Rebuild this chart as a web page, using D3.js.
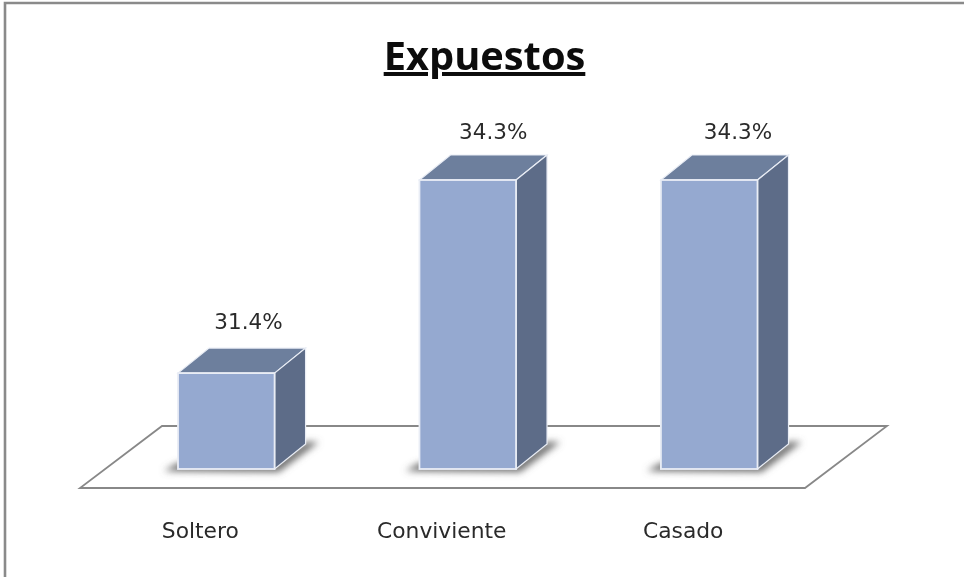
<!DOCTYPE html>
<html><head><meta charset="utf-8">
<script src="https://cdnjs.cloudflare.com/ajax/libs/d3/7.8.5/d3.min.js"></script>
<style>html,body{margin:0;padding:0;background:#fff;overflow:hidden}svg{display:block}#root{filter:blur(0.45px)}</style>
</head><body><svg id="c" width="964" height="577"></svg>
<script>
const title = "Expuestos";
const categories = ["Soltero", "Conviviente", "Casado"];
const values = [31.4, 34.3, 34.3];
const labels = ["31.4%", "34.3%", "34.3%"];
const baseValue = 29.96;

const svg = d3.select("#c").append("g").attr("id","root");
const defsRoot = d3.select("#c");
const x = d3.scaleBand().domain(categories).range([178, 757.5]).paddingInner(0.6).paddingOuter(0);
const y = d3.scaleLinear().domain([baseValue, 34.3]).range([469, 180]);
const labelX = d3.scalePoint().domain(categories).range([248.5, 738]);
const labelY = d3.scaleLinear().domain([31.4, 34.3]).range([329, 139]);
const dx = 31, dy = -25;

const defs = defsRoot.append("defs");
const blur = defs.append("filter").attr("id","sh").attr("x","-30%").attr("y","-30%").attr("width","160%").attr("height","160%");
blur.append("feGaussianBlur").attr("stdDeviation",3.5);

// chart border
svg.append("path").attr("d","M5,577V3H964").attr("fill","none").attr("stroke","#8a8a8a").attr("stroke-width",2.6);

// floor
svg.append("path").attr("d","M80,488H805L887,426H162Z").attr("fill","#fff")
  .attr("stroke","#888").attr("stroke-width",1.8);

// title
svg.append("text").attr("x",484.5).attr("y",70).attr("text-anchor","middle")
  .attr("font-family","'Open Sans',sans-serif").attr("font-weight",700).attr("font-size",39.8)
  .attr("text-decoration","underline").attr("fill","#0c0c0c").text(title);

const g = svg.selectAll("g.bar").data(categories.map((c,i)=>({c,v:values[i],l:labels[i]}))).join("g").attr("class","bar");

// floor shadows
g.append("path").attr("filter","url(#sh)").attr("fill","#6a6a6a")
  .attr("d",d=>{const a=x(d.c),b=a+x.bandwidth(),f=y(baseValue);
    return `M${a-14},${f+2}L${a},${f-6}H${b}L${b+dx},${f+dy-2}H${b+dx+13}L${b+4},${f+3}Z`;});

const edge = "#e9edf5";
g.append("path").attr("fill","#6d7f9d").attr("stroke",edge).attr("stroke-width",1.2)
  .attr("d",d=>{const a=x(d.c),b=a+x.bandwidth(),t=y(d.v);
    return `M${a},${t}L${a+dx},${t+dy}H${b+dx}L${b},${t}Z`;});
g.append("path").attr("fill","#5d6c88").attr("stroke",edge).attr("stroke-width",1.2)
  .attr("d",d=>{const b=x(d.c)+x.bandwidth(),t=y(d.v),f=y(baseValue);
    return `M${b},${t}L${b+dx},${t+dy}V${f+dy}L${b},${f}Z`;});
g.append("rect").attr("x",d=>x(d.c)).attr("y",d=>y(d.v))
  .attr("width",x.bandwidth()).attr("height",d=>y(baseValue)-y(d.v))
  .attr("fill","#95a9d0").attr("stroke",edge).attr("stroke-width",1.8);

// value labels
g.append("text").attr("x",d=>labelX(d.c)).attr("y",d=>labelY(d.v))
  .attr("text-anchor","middle").attr("font-family","'DejaVu Sans',sans-serif")
  .attr("font-size",21.5).attr("fill","#2a2a2a").text(d=>d.l);

// category axis
const axis = svg.append("g").attr("transform","translate(-26,527)")
  .call(d3.axisBottom(x).tickSize(0).tickPadding(0));
axis.select(".domain").remove();
axis.selectAll("text").attr("font-family","'DejaVu Sans',sans-serif")
  .attr("font-size",21.8).attr("fill","#2a2a2a").attr("dy",".5em");
</script></body></html>
